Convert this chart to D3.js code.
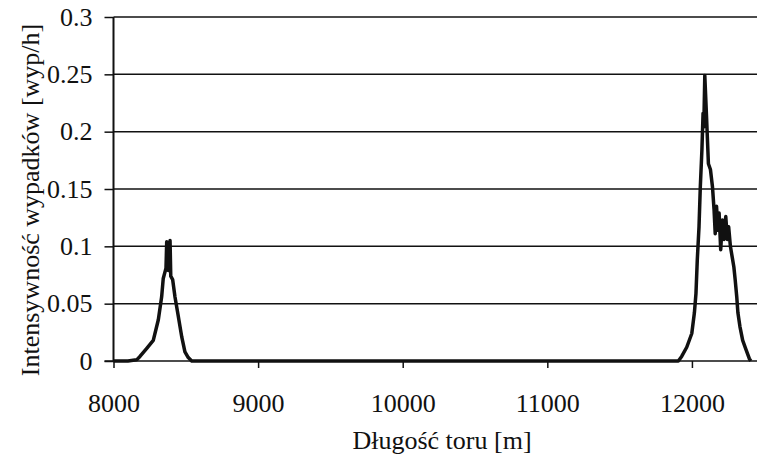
<!DOCTYPE html>
<html>
<head>
<meta charset="utf-8">
<script src="https://cdn.jsdelivr.net/npm/d3@7"></script>
<style>
  body { margin: 0; background: #fff; }
</style>
</head>
<body>
<div id="viz"></div>
<script>
// track position [m] and accident intensity [wyp/h]
let distance = [
  8000, 8100, 8160, 8183, 8230, 8275, 8310, 8333, 8344, 8363, 8368, 8379, 8391, 8396,
  8409, 8425, 8448, 8472, 8494, 8517, 8541, 8700, 9500, 10500, 11500, 11906,
  11929, 11964, 11999, 12017, 12028, 12037, 12049, 12058, 12069, 12077, 12082, 12089,
  12101, 12114, 12128, 12142, 12153, 12161, 12170, 12181, 12188, 12199, 12211, 12222,
  12234, 12245, 12254, 12266, 12278, 12290, 12299, 12310, 12318, 12332, 12351, 12374,
  12397, 12407
]
let intensity = [
  0, 0, 0.001, 0.004, 0.011, 0.018, 0.036, 0.056, 0.072, 0.081, 0.104, 0.079, 0.105, 0.074,
  0.071, 0.056, 0.039, 0.021, 0.008, 0.003, 0, 0, 0, 0, 0, 0,
  0.004, 0.012, 0.024, 0.042, 0.059, 0.088, 0.117, 0.152, 0.184, 0.216, 0.204, 0.249,
  0.213, 0.172, 0.167, 0.152, 0.132, 0.111, 0.135, 0.114, 0.129, 0.097, 0.123, 0.106,
  0.126, 0.106, 0.117, 0.100, 0.091, 0.082, 0.071, 0.056, 0.042, 0.030, 0.018, 0.010,
  0.002, 0
]
let xTicks = [8000, 9000, 10000, 11000, 12000]
let yTicks = [0, 0.05, 0.1, 0.15, 0.2, 0.25, 0.3]

let width = 757
let height = 457
let fontFam = '"Liberation Serif", "Times New Roman", Times, serif'

let svg = d3.select('#viz')
  .append('svg')
  .attr('width', width)
  .attr('height', height)

let x = d3.scaleLinear()
  .domain([8000, 12450])
  .range([113.5, 757])

let y = d3.scaleLinear()
  .domain([0, 0.3])
  .range([361, 17])

// horizontal gridlines
svg.append('g')
  .selectAll('line')
  .data(yTicks.slice(1))
  .enter()
  .append('line')
  .attr('x1', x(8000))
  .attr('x2', width)
  .attr('y1', d => y(d))
  .attr('y2', d => y(d))
  .attr('stroke', '#111')
  .attr('stroke-width', 1.5)

// y axis
let yAxis = svg.append('g')
  .attr('transform', `translate(${x(8000)},0)`)
  .call(d3.axisLeft(y).tickValues(yTicks).tickSize(9).tickPadding(12)
    .tickFormat(d => String(+d.toFixed(2))))
yAxis.attr('font-family', null).attr('font-size', null)
yAxis.select('.domain').attr('stroke', '#111').attr('stroke-width', 2).attr('d', `M0,${y(0.3)}V${y(0)}`)
yAxis.selectAll('.tick line').attr('stroke', '#111').attr('stroke-width', 1.5)
yAxis.selectAll('.tick text')
  .style('font-family', fontFam)
  .style('font-size', '26px')
  .attr('fill', '#111')

// x axis
let xAxis = svg.append('g')
  .attr('transform', `translate(0,${y(0)})`)
  .call(d3.axisBottom(x).tickValues(xTicks).tickSize(7).tickPadding(26)
    .tickFormat(d3.format('d')))
xAxis.attr('font-family', null).attr('font-size', null)
xAxis.select('.domain').attr('stroke', '#111').attr('stroke-width', 1.5).attr('d', `M${x(8000) - 9},0H${width}`)
xAxis.selectAll('.tick line').attr('stroke', '#111').attr('stroke-width', 1.5)
xAxis.selectAll('.tick text')
  .style('font-family', fontFam)
  .style('font-size', '26px')
  .attr('fill', '#111')

// data line
let line = d3.line()
  .x((d, i) => x(distance[i]))
  .y(d => y(d))

svg.append('path')
  .datum(intensity)
  .attr('d', line)
  .attr('fill', 'none')
  .attr('stroke', '#111')
  .attr('stroke-width', 3.5)
  .attr('stroke-linejoin', 'round')

// axis titles
svg.append('text')
  .attr('x', 442)
  .attr('y', 449)
  .attr('text-anchor', 'middle')
  .style('font-family', fontFam)
  .style('font-size', '26px')
  .attr('fill', '#111')
  .text('Długość toru [m]')

svg.append('text')
  .attr('transform', 'translate(39,200) rotate(-90)')
  .attr('text-anchor', 'middle')
  .style('font-family', fontFam)
  .style('font-size', '26px')
  .attr('fill', '#111')
  .text('Intensywność wypadków [wyp/h]')
</script>
</body>
</html>
